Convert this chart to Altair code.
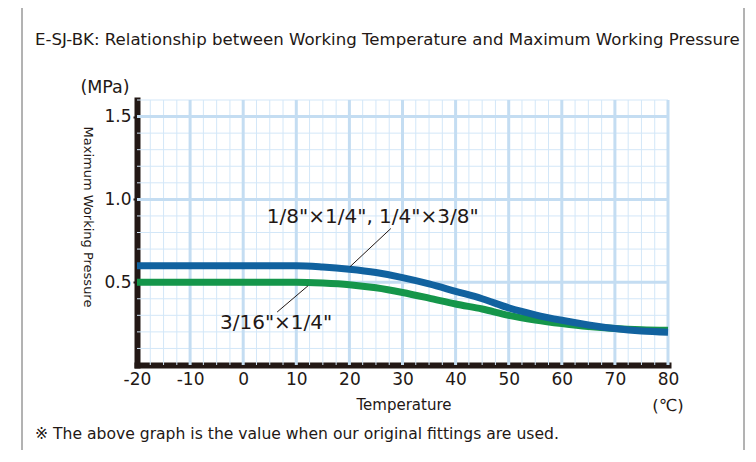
import altair as alt
import pandas as pd

# ---------------- data ----------------
temp_blue = [-20, 10, 15, 20, 25, 30, 35, 40, 45, 50, 55, 60, 65, 70, 75, 80]
pres_blue = [0.60, 0.60, 0.592, 0.578, 0.558, 0.528, 0.490, 0.445, 0.400, 0.345, 0.303, 0.270, 0.242, 0.220, 0.205, 0.198]
temp_green = [-20, 10, 15, 20, 25, 30, 35, 40, 45, 50, 55, 60, 65, 70, 75, 80]
pres_green = [0.50, 0.50, 0.495, 0.485, 0.466, 0.438, 0.404, 0.368, 0.338, 0.300, 0.272, 0.250, 0.232, 0.220, 0.213, 0.210]

x_ticks = [-20, -10, 0, 10, 20, 30, 40, 50, 60, 70, 80]
y_ticks = [0.5, 1.0, 1.5]
x_minor = [-17.5, -15, -12.5, -7.5, -5, -2.5, 2.5, 5, 7.5, 12.5, 15, 17.5, 22.5, 25, 27.5,
           32.5, 35, 37.5, 42.5, 45, 47.5, 52.5, 55, 57.5, 62.5, 65, 67.5, 72.5, 75, 77.5]
x_major = [-10, 0, 10, 20, 30, 40, 50, 60, 70, 80]
y_minor = [0.1, 0.2, 0.3, 0.4, 0.6, 0.7, 0.8, 0.9, 1.1, 1.2, 1.3, 1.4, 1.6]
y_major = [0.5, 1.0, 1.5]

label_blue = '1/8"×1/4", 1/4"×3/8"'
label_green = '3/16"×1/4"'
label_pos_x = [24.4, 6.2]
label_pos_y = [0.895, 0.253]
leader_x = [27.8, 12.2]
leader_y = [0.824, 0.478]
leader_x2 = [20.1, 6.4]
leader_y2 = [0.593, 0.32]

title_text = "E-SJ-BK: Relationship between Working Temperature and Maximum Working Pressure"
y_title = "Maximum Working Pressure"
y_unit = "(MPa)"
x_title = "Temperature"
x_unit = "(℃)"
note_text = "※ The above graph is the value when our original fittings are used."

W, H = 531, 265
INK = "#231815"
BLUE = "#11629f"
GREEN = "#15964a"
GRID_MINOR = "#d3e7f8"
GRID_MAJOR = "#c4ddf2"
FONT = "DejaVu Sans"

xs = alt.Scale(domain=[-20, 80], nice=False, zero=False)
ys = alt.Scale(domain=[0, 1.6], nice=False, zero=False)

df_blue = pd.DataFrame({"t": temp_blue, "p": pres_blue})
df_green = pd.DataFrame({"t": temp_green, "p": pres_green})

vminor = alt.Chart(pd.DataFrame({"v": x_minor})).mark_rule(color=GRID_MINOR, strokeWidth=1).encode(
    x=alt.X("v:Q", scale=xs), y=alt.value(0), y2=alt.value(H))
vmajor = alt.Chart(pd.DataFrame({"v": x_major})).mark_rule(color=GRID_MAJOR, strokeWidth=3).encode(
    x=alt.X("v:Q", scale=xs), y=alt.value(0), y2=alt.value(H))
hminor = alt.Chart(pd.DataFrame({"v": y_minor})).mark_rule(color=GRID_MINOR, strokeWidth=1).encode(
    y=alt.Y("v:Q", scale=ys), x=alt.value(0), x2=alt.value(W))
hmajor = alt.Chart(pd.DataFrame({"v": y_major})).mark_rule(color=GRID_MAJOR, strokeWidth=3).encode(
    y=alt.Y("v:Q", scale=ys), x=alt.value(0), x2=alt.value(W))

x_axis = alt.Axis(values=x_ticks, title=None, ticks=False, labelFontSize=17, labelColor=INK,
                  labelFont=FONT, labelPadding=6, labelFlush=False, labelExpr="'' + datum.value",
                  domainColor=INK, domainWidth=6, domainCap="square", grid=False)
y_axis = alt.Axis(values=y_ticks, format=".1f", title=None, tickSize=4, tickWidth=2, tickColor=INK,
                  labelFontSize=17, labelColor=INK, labelFont=FONT, labelPadding=2, labelFlush=False,
                  domainColor=INK, domainWidth=6, domainCap="square", grid=False)

green_line = alt.Chart(df_green).mark_line(color=GREEN, strokeWidth=7, interpolate="monotone",
                                            strokeCap="butt").encode(
    x=alt.X("t:Q", scale=xs, axis=x_axis), y=alt.Y("p:Q", scale=ys, axis=y_axis))
blue_line = alt.Chart(df_blue).mark_line(color=BLUE, strokeWidth=7, interpolate="monotone",
                                          strokeCap="butt").encode(
    x=alt.X("t:Q", scale=xs), y=alt.Y("p:Q", scale=ys))

leaders = alt.Chart(pd.DataFrame({"x": leader_x, "y": leader_y, "x2": leader_x2, "y2": leader_y2})).mark_rule(
    color=INK, strokeWidth=1).encode(x=alt.X("x:Q", scale=xs), y=alt.Y("y:Q", scale=ys), x2="x2:Q", y2="y2:Q")

labels = alt.Chart(pd.DataFrame({"x": label_pos_x, "y": label_pos_y, "txt": [label_blue, label_green]})).mark_text(
    fontSize=20, font=FONT, color=INK, align="center", baseline="middle").encode(
    x=alt.X("x:Q", scale=xs), y=alt.Y("y:Q", scale=ys), text="txt:N")


def ptext(txt, x, y, size, align="center", angle=0):
    return alt.Chart(pd.DataFrame({"txt": [txt]})).mark_text(
        fontSize=size, font=FONT, color=INK, align=align, baseline="middle", angle=angle).encode(
        text="txt:N", x=alt.value(x), y=alt.value(y))


title_mark = ptext(title_text, -102, -60, 16.6, align="left")
yunit_mark = ptext(y_unit, -32, -12, 17.5)
ytitle_mark = ptext(y_title, -49, 117, 13, angle=90)
xtitle_mark = ptext(x_title, 267, 305, 15)
xunit_mark = ptext(x_unit, 531, 306, 16.5)
note_mark = ptext(note_text, -102, 334, 15.6, align="left")

frame_df = pd.DataFrame({"k": [0]})
frame_top = alt.Chart(frame_df).mark_rule(color="#666666", strokeWidth=1).encode(
    x=alt.value(-115), x2=alt.value(607), y=alt.value(-93))
frame_left = alt.Chart(frame_df).mark_rule(color="#666666", strokeWidth=1).encode(
    x=alt.value(-115), y=alt.value(-93), y2=alt.value(400))
frame_right = alt.Chart(frame_df).mark_rule(color="#666666", strokeWidth=1).encode(
    x=alt.value(607), y=alt.value(-93), y2=alt.value(400))

chart = alt.layer(
    vminor, hminor, vmajor, hmajor, green_line, blue_line, leaders, labels,
    title_mark, yunit_mark, ytitle_mark, xtitle_mark, xunit_mark, note_mark,
    frame_top, frame_left, frame_right,
).properties(
    width=W, height=H,
    padding={"left": 129, "top": 92, "right": 80, "bottom": 85},
    autosize=alt.AutoSizeParams(type="none"),
    background="white",
).configure_view(strokeWidth=0)

chart.save("out.html", embed_options={"renderer": "svg", "actions": False})
